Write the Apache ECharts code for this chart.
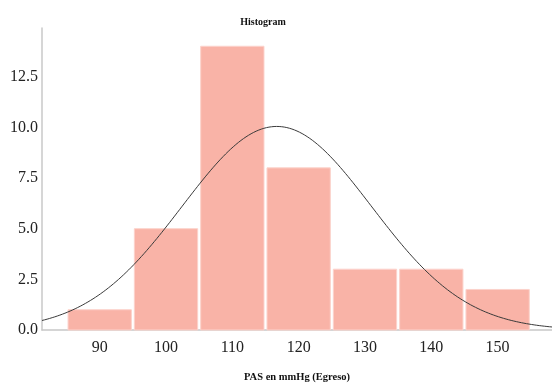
<!DOCTYPE html>
<html>
<head>
<meta charset="utf-8">
<script src="https://cdn.jsdelivr.net/npm/echarts@6/dist/echarts.min.js"></script>
<style>
  html, body { margin: 0; padding: 0; background: #fff; }
  #chart { width: 552px; height: 383px; }
</style>
</head>
<body>
<div id="chart"></div>
<script>
// Histogram bins (lower edge, upper edge) and counts
const binStarts = [85, 95, 105, 115, 125, 135, 145];
const binWidth = 10;
const counts = [1, 5, 14, 8, 3, 3, 2];

// Tick labels
const xTicks = [90, 100, 110, 120, 130, 140, 150];
const yTicks = [0, 2.5, 5, 7.5, 10, 12.5];

// Normal fit parameters of the sample
const fitMean = 116.7;
const fitSd = 14.3;

const xMin = 81.3, xMax = 158.2;

// Fitted normal curve, scaled to counts per bin
const nTotal = counts.reduce((a, b) => a + b, 0);
const curve = [];
for (let i = 0; i <= 200; i++) {
  const x = xMin + (xMax - xMin) * i / 200;
  const z = (x - fitMean) / fitSd;
  const y = nTotal * binWidth / (fitSd * Math.sqrt(2 * Math.PI)) * Math.exp(-0.5 * z * z);
  curve.push([x, y]);
}

const barData = binStarts.map((s, i) => [s, s + binWidth, counts[i]]);

const serif = '"Liberation Serif", "Times New Roman", serif';
const chart = echarts.init(document.getElementById('chart'));
chart.setOption({
  animation: false,
  title: {
    text: 'Histogram',
    left: 258, top: 12, textAlign: 'center',
    textStyle: { fontFamily: serif, fontSize: 10, fontWeight: 'bold', color: '#111' }
  },
  grid: { left: 42, right: 0, top: 28, bottom: 53, outerBoundsMode: 'none', containLabel: false },
  xAxis: {
    type: 'value', min: xMin, max: xMax,
    name: 'PAS en mmHg (Egreso)', nameLocation: 'middle', nameGap: 42,
    nameTextStyle: { fontFamily: serif, fontSize: 10.5, fontWeight: 'bold', color: '#111' },
    axisLine: { show: true, onZero: false, lineStyle: { color: '#c8c8c8', width: 1.5 } },
    axisTick: { show: false },
    splitLine: { show: false },
    axisLabel: { customValues: xTicks, fontFamily: serif, fontSize: 16, color: '#222', margin: 10 }
  },
  yAxis: {
    type: 'value', min: 0, max: 14.9,
    axisLine: { show: true, lineStyle: { color: '#c8c8c8', width: 1.5 } },
    axisTick: { show: false },
    splitLine: { show: false },
    axisLabel: {
      customValues: yTicks, fontFamily: serif, fontSize: 16, color: '#222', margin: 4,
      formatter: v => v.toFixed(1)
    }
  },
  series: [
    {
      type: 'custom',
      data: barData,
      encode: { x: [0, 1], y: 2 },
      renderItem: (params, api) => {
        const p0 = api.coord([api.value(0), 0]);
        const p1 = api.coord([api.value(1), api.value(2)]);
        return {
          type: 'rect',
          shape: { x: p0[0] + 1.5, y: p1[1], width: p1[0] - p0[0] - 3, height: p0[1] - p1[1] },
          style: { fill: '#F9B3A7', stroke: '#FCD3CC', lineWidth: 1 }
        };
      },
      z: 2
    },
    {
      type: 'line',
      data: curve,
      showSymbol: false,
      smooth: false,
      lineStyle: { color: '#3a3a3a', width: 1 },
      z: 3
    }
  ]
});
</script>
</body>
</html>
